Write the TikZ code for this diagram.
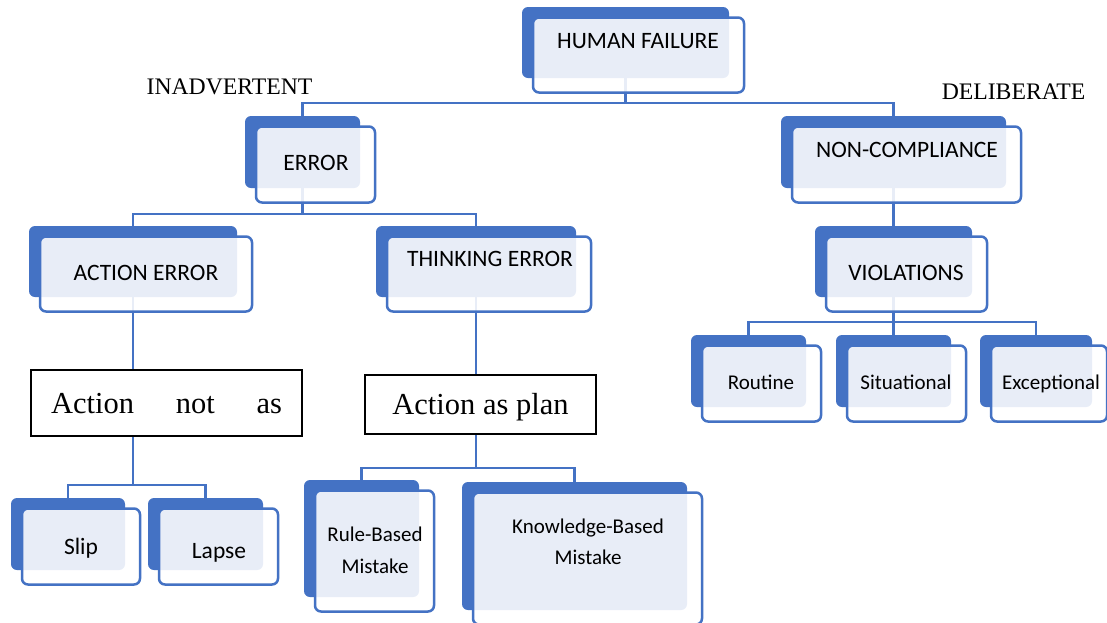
\documentclass[tikz,border=0pt]{standalone}
\usepackage{fontspec}
\setmainfont{Liberation Serif}
\newfontfamily\boxfont{Carlito}
\pgfdeclarelayer{wires}
\pgfsetlayers{wires,main}
\definecolor{tierblue}{HTML}{4472C4}
\tikzset{
  backbox/.style={fill=tierblue, rounded corners=6pt, inner sep=0pt, draw=none},
  frontbox/.style={fill=white, fill opacity=0.88, draw=tierblue, line width=2.5pt,
                   rounded corners=6pt, inner sep=0pt},
  conn/.style={draw=tierblue, line width=2.6pt},
  lbl/.style={inner sep=0pt, font=\boxfont\fontsize{23.5}{28}\selectfont,
              text height=15pt, text depth=0pt},
  lblsm/.style={lbl, font=\boxfont\fontsize{21}{25}\selectfont, text height=13.5pt},
  seriflbl/.style={inner sep=0pt, font=\fontsize{23.7}{28}\selectfont,
                   text height=15.7pt, text depth=0pt},
  planbox/.style={draw=black, line width=1.3pt, fill=white, inner sep=0pt,
                  font=\fontsize{30.5}{36}\selectfont, text height=20pt, text depth=0pt},
}
% back tab (dark) and raised card (outlined) of one hierarchy box,
% given by the corners x1,y1,x2,y2 of the back tab
\newcommand\tierbox[5]{%
  \node[backbox, minimum width={#4-#2}, minimum height={#5-#3}]
    (#1) at ({(#2+#4)/2},{(#3+#5)/2}) {};
  \node[frontbox, minimum width={#4-#2+4}, minimum height={#5-#3+4}]
    (#1-f) at ({(#2+#4)/2+13},{(#3+#5)/2+12.5}) {};
}
\begin{document}
\begin{tikzpicture}[x=1pt,y=-1pt]
  \useasboundingbox (0,0) rectangle (1107,622);

  % hierarchy boxes
  \tierbox{hf}{522}{7}{729}{78}
  \tierbox{err}{245}{116}{360}{188}
  \tierbox{nc}{781}{116}{1006}{188}
  \tierbox{ae}{29}{226}{237}{297}
  \tierbox{te}{376}{226}{576}{297}
  \tierbox{vi}{815}{226}{972}{297}
  \tierbox{rt}{691}{335}{806}{407}
  \tierbox{si}{836}{335}{951}{407}
  \tierbox{ex}{980}{335}{1092}{407}
  \tierbox{slip}{11}{498}{125}{570}
  \tierbox{lapse}{148}{498}{263}{570}
  \tierbox{rb}{304}{480}{419}{597}
  \tierbox{kb}{462}{482}{687}{610}

  % plain text boxes
  \node[planbox, minimum width=271, minimum height=66] (anot) at (166.5,403)
    {\makebox[231pt]{Action\hfill not\hfill as}};
  \node[planbox, minimum width=231, minimum height=59] (aplan) at (480.5,404.5)
    {Action as plan};

  % labels
  \node[lbl] (hf-t) at (638,41) {HUMAN FAILURE};
  \node[lbl] (err-t) at (316,163) {ERROR};
  \node[lbl] (nc-t) at (907,150) {NON-COMPLIANCE};
  \node[lbl] (ae-t) at (146,273) {ACTION ERROR};
  \node[lbl] (te-t) at (490,259) {THINKING ERROR};
  \node[lbl] (vi-t) at (906,273) {VIOLATIONS};
  \node[lblsm] (rt-t) at (761,383) {Routine};
  \node[lblsm] (si-t) at (906,383) {Situational};
  \node[lblsm] (ex-t) at (1051,383) {Exceptional};
  \node[lbl] (slip-t) at (81,547) {Slip};
  \node[lbl] (lapse-t) at (219,551) {Lapse};
  \node[lblsm] (rb-t1) at (375,535) {Rule-Based};
  \node[lblsm] (rb-t2) at (375,567) {Mistake};
  \node[lblsm] (kb-t1) at (588,527) {Knowledge-Based};
  \node[lblsm] (kb-t2) at (588,558) {Mistake};
  \node[seriflbl] (inadv) at (229.5,87) {INADVERTENT};
  \node[seriflbl] (delib) at (1013.5,92) {DELIBERATE};

  % connectors, kept behind the boxes
  \begin{pgfonlayer}{wires}
    \fill[white] (0,0) rectangle (1107,622);
    \draw[conn] (err.north) -- ++(0,-13) -| (hf.south);
    \draw[conn] (nc.north) -- ++(0,-13) -| (hf.south);
    \draw[conn] (ae.north) -- ++(0,-12) -| (err.south);
    \draw[conn] (te.north) -- ++(0,-12) -| (err.south);
    \draw[conn] (nc.south) -- (vi.north);
    \draw[conn] (rt.north) -- ++(0,-13) -| (vi.south);
    \draw[conn] (si.north) -- ++(0,-13) -| (vi.south);
    \draw[conn] (ex.north) -- ++(0,-13) -| (vi.south);
    \draw[conn] (ae.south) -- (ae.south |- anot.north);
    \draw[conn] (te.south) -- (te.south |- aplan.north);
    \draw[conn] (slip.north) -- ++(0,-13) -| (ae.south |- anot.south);
    \draw[conn] (lapse.north) -- ++(0,-13) -| (ae.south |- anot.south);
    \draw[conn] (rb.north) -- ++(0,-12) -| (te.south |- aplan.south);
    \draw[conn] (kb.north) -- ++(0,-14) -| (te.south |- aplan.south);
  \end{pgfonlayer}
\end{tikzpicture}
\end{document}
